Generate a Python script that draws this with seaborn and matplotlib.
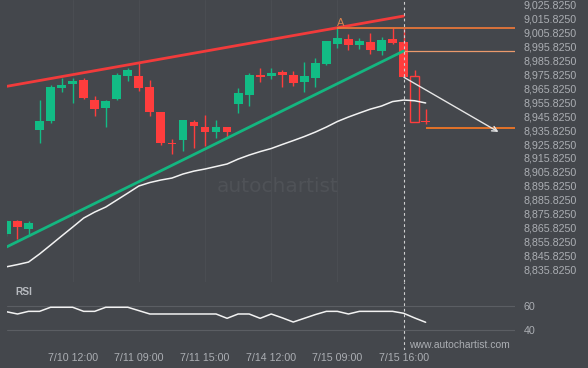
import numpy as np
import pandas as pd
import matplotlib
matplotlib.use("Agg")
import matplotlib.pyplot as plt
import seaborn as sns
from matplotlib.patches import Rectangle

# ---------------- data ----------------
opens = [8861.2, 8870.5, 8864.8, 8935.9, 8942.3, 8966.0, 8968.9, 8971.8, 8957.4, 8951.7,
         8958.1, 8974.6, 8974.6, 8966.7, 8948.8, 8926.9, 8928.7, 8941.6, 8938.0, 8934.4,
         8938.0, 8954.5, 8961.0, 8975.4, 8974.6, 8977.5, 8975.4, 8970.3, 8973.2, 8983.3,
         8997.6, 9001.2, 8996.9, 8999.0, 8992.6, 9001.2, 8999.0, 8974.6, 8942.6]
closes = [8870.5, 8866.2, 8869.1, 8942.3, 8966.7, 8968.2, 8971.1, 8958.8, 8950.9, 8956.7,
          8975.4, 8978.9, 8966.0, 8948.8, 8926.5, 8926.2, 8943.1, 8938.7, 8934.4, 8938.0,
          8934.4, 8962.4, 8975.4, 8973.9, 8976.8, 8975.4, 8969.6, 8974.6, 8984.0, 8999.8,
          9001.9, 8996.9, 8999.8, 8993.3, 9000.5, 8998.3, 8973.9, 8941.6, 8941.9]
highs = [8871.5, 8871.0, 8870.5, 8957.4, 8968.2, 8973.2, 8973.2, 8973.2, 8960.3, 8957.4,
         8976.8, 8980.4, 8984.0, 8971.8, 8948.8, 8929.4, 8943.1, 8943.1, 8946.6, 8943.1,
         8938.0, 8966.0, 8976.8, 8980.4, 8980.4, 8978.9, 8978.2, 8984.7, 8987.6, 8999.8,
         9009.1, 9004.8, 9001.9, 9005.5, 9002.6, 9009.1, 9009.1, 8978.9, 8950.9]
lows = [8859.5, 8857.6, 8860.5, 8926.5, 8940.9, 8963.2, 8955.3, 8958.1, 8945.9, 8938.0,
        8957.4, 8971.1, 8963.9, 8945.9, 8925.1, 8918.6, 8920.8, 8923.0, 8924.4, 8930.1,
        8930.9, 8948.1, 8953.1, 8970.3, 8972.5, 8966.7, 8967.5, 8963.2, 8966.7, 8982.5,
        8994.7, 8993.3, 8994.0, 8990.4, 8989.7, 8997.6, 8973.9, 8941.6, 8940.2]
hollow = [False] * 37 + [True, False]

ma = [8837.7, 8839.3, 8841.1, 8846.9, 8853.3, 8859.8, 8866.2, 8872.7, 8877.0, 8880.6,
      8885.6, 8890.6, 8895.7, 8898.2, 8900.0, 8901.4, 8904.3, 8906.4, 8907.9, 8909.7,
      8911.5, 8915.0, 8917.9, 8920.4, 8922.6, 8925.5, 8928.3, 8931.2, 8934.4, 8938.0,
      8942.0, 8945.2, 8948.1, 8950.9, 8953.1, 8956.3, 8957.4, 8956.9, 8955.3]

rsi = [55.5, 53.6, 55.8, 55.8, 59.2, 59.2, 59.2, 55.8, 55.8, 59.2,
       59.2, 59.2, 56.4, 53.6, 53.6, 53.6, 53.6, 53.6, 53.6, 53.6,
       50.0, 53.6, 53.6, 50.0, 53.6, 50.4, 46.9, 50.0, 53.1, 55.8,
       55.8, 53.6, 55.8, 55.8, 55.8, 55.8, 54.2, 50.3, 46.7]

tick_idx = [6, 12, 18, 24, 30, 36]
tick_labels = ["7/10 12:00", "7/11 09:00", "7/11 15:00", "7/14 12:00", "7/15 09:00", "7/15 16:00"]
price_ticks = [8835.825, 8845.825, 8855.825, 8865.825, 8875.825, 8885.825, 8895.825,
               8905.825, 8915.825, 8925.825, 8935.825, 8945.825, 8955.825, 8965.825,
               8975.825, 8985.825, 8995.825, 9005.825, 9015.825, 9025.825]
rsi_ticks = [40, 60]

# pattern annotations
upper_line_x = [0, 36]
upper_line_y = [8967.2, 9017.7]
lower_line_x = [0, 36]
lower_line_y = [8851.9, 8992.6]
level_a = 9009.1          # resistance at point A
level_mid = 8992.4
target_level = 8937.6
arrow_start = (36.04, 8973.7)
arrow_end = (44.6, 8934.5)
now_idx = 36.04

# ---------------- style ----------------
BG = "#44474c"
TXT = "#abaeb3"
GREEN = "#12bc85"
RED = "#ff3d3d"

sns.set_theme(style="dark", rc={"axes.facecolor": BG, "figure.facecolor": BG})
plt.rcParams["font.family"] = ["Liberation Sans", "DejaVu Sans"]

W, H = 588, 368
fig = plt.figure(figsize=(W / 100, H / 100), dpi=100)
L, R = 7, 515
ax = fig.add_axes([L / W, 1 - 282 / H, (R - L) / W, 282 / H])
ax2 = fig.add_axes([L / W, 1 - 350 / H, (R - L) / W, 68 / H])

xlim = (0.05, 46.1)
for a in (ax, ax2):
    a.set_facecolor(BG)
    a.set_xlim(*xlim)
    for s in a.spines.values():
        s.set_visible(False)
    a.grid(False)

ax.set_ylim(8826.8, 9029.2)
ax2.set_ylim(23.6, 80.25)

# faint vertical gridlines
for t in tick_idx[:-1]:
    ax.axvline(t, color="#4a4d52", lw=0.8, zorder=0)

# watermark
fig.text(217 / W, 1 - 186 / H, "autochartist", color="#4f5257", fontsize=14.5,
         family="DejaVu Sans", ha="left", va="center", zorder=0)
bar_tops = [183, 180, 178, 175, 172, 170, 168, 167]
bar_bots = [192, 191, 189, 187, 186, 184, 182, 181]
for k, (tp, bt) in enumerate(zip(bar_tops, bar_bots)):
    fig.add_artist(Rectangle(((186 + 5.5 * k) / W, 1 - bt / H), 3 / W, (bt - tp) / H,
                             facecolor="#4e5156", edgecolor="none", zorder=0))

# candles
df = pd.DataFrame({"i": range(len(opens)), "open": opens, "close": closes,
                   "high": highs, "low": lows, "hollow": hollow})
df["up"] = df["close"] >= df["open"]
df["color"] = np.where(df["up"], GREEN, RED)
ax.vlines(df["i"], df["low"], df["high"], colors=df["color"], lw=1.0, zorder=3)
solid = df[~df["hollow"]]
ax.bar(solid["i"], (solid["close"] - solid["open"]).abs().clip(lower=0.7),
       bottom=solid[["open", "close"]].min(axis=1), width=0.8,
       color=solid["color"], edgecolor="none", zorder=4)
hol = df[df["hollow"]]
ax.bar(hol["i"], (hol["close"] - hol["open"]).abs(),
       bottom=hol[["open", "close"]].min(axis=1), width=0.8,
       facecolor=BG, edgecolor=RED, lw=1.0, zorder=4)

# moving average
sns.lineplot(x=df["i"], y=ma, ax=ax, color="#f2f2f2", lw=1.1, zorder=5)

# trend lines
sns.lineplot(x=upper_line_x, y=upper_line_y, ax=ax, color="#f23b3b", lw=2.0, zorder=6)
sns.lineplot(x=lower_line_x, y=lower_line_y, ax=ax, color="#14b680", lw=2.0, zorder=6)

# levels
ax.hlines(level_a, 30, xlim[1], color="#f47a38", lw=1.2, zorder=6)
ax.hlines(level_mid, 36, xlim[1], color="#eb9a6c", lw=0.9, zorder=6)
ax.hlines(target_level, 38, xlim[1], color="#ff7a22", lw=1.2, zorder=6)
ax.text(30.3, 9012.9, "A", color="#d9824e", fontsize=8, ha="center", va="center", zorder=7)

# forecast arrow
ax.annotate("", xy=arrow_end, xytext=arrow_start,
            arrowprops=dict(arrowstyle="->", color="#e6e6e6", lw=1.0,
                            mutation_scale=9, shrinkA=0, shrinkB=0), zorder=7)

# now line
for a in (ax, ax2):
    a.axvline(now_idx, color="#cfcfcf", lw=0.8, ls=(0, (2.5, 2.5)), zorder=8)

# RSI
for v in rsi_ticks:
    ax2.axhline(v, color="#5b5e63", lw=0.8, zorder=1)
sns.lineplot(x=df["i"], y=rsi, ax=ax2, color="#f2f2f2", lw=1.1, zorder=5)

# ticks
ax.yaxis.tick_right()
ax.set_yticks(price_ticks)
ax.set_yticklabels([f"{v:,.4f}" for v in price_ticks])
ax.set_xticks([])
ax.tick_params(axis="y", length=0, pad=6, labelsize=7.7, labelcolor=TXT)
ax.set_xlabel("")
ax.set_ylabel("")

ax2.yaxis.tick_right()
ax2.set_yticks(rsi_ticks)
ax2.set_yticklabels([str(v) for v in rsi_ticks])
ax2.set_xticks(tick_idx)
ax2.set_xticklabels(tick_labels)
ax2.tick_params(axis="both", length=0, labelsize=7.7, labelcolor=TXT)
ax2.tick_params(axis="y", pad=6)
ax2.tick_params(axis="x", pad=2)
ax2.set_xlabel("")
ax2.set_ylabel("")

fig.text(15 / W, 1 - 292 / H, "RSI", color="#b7babf", fontsize=7.4, fontweight="bold",
         ha="left", va="center")
fig.text(409 / W, 1 - 344.5 / H, "www.autochartist.com", color=TXT, fontsize=7.5,
         ha="left", va="center")

fig.savefig("out.png", dpi=100, facecolor=BG)
